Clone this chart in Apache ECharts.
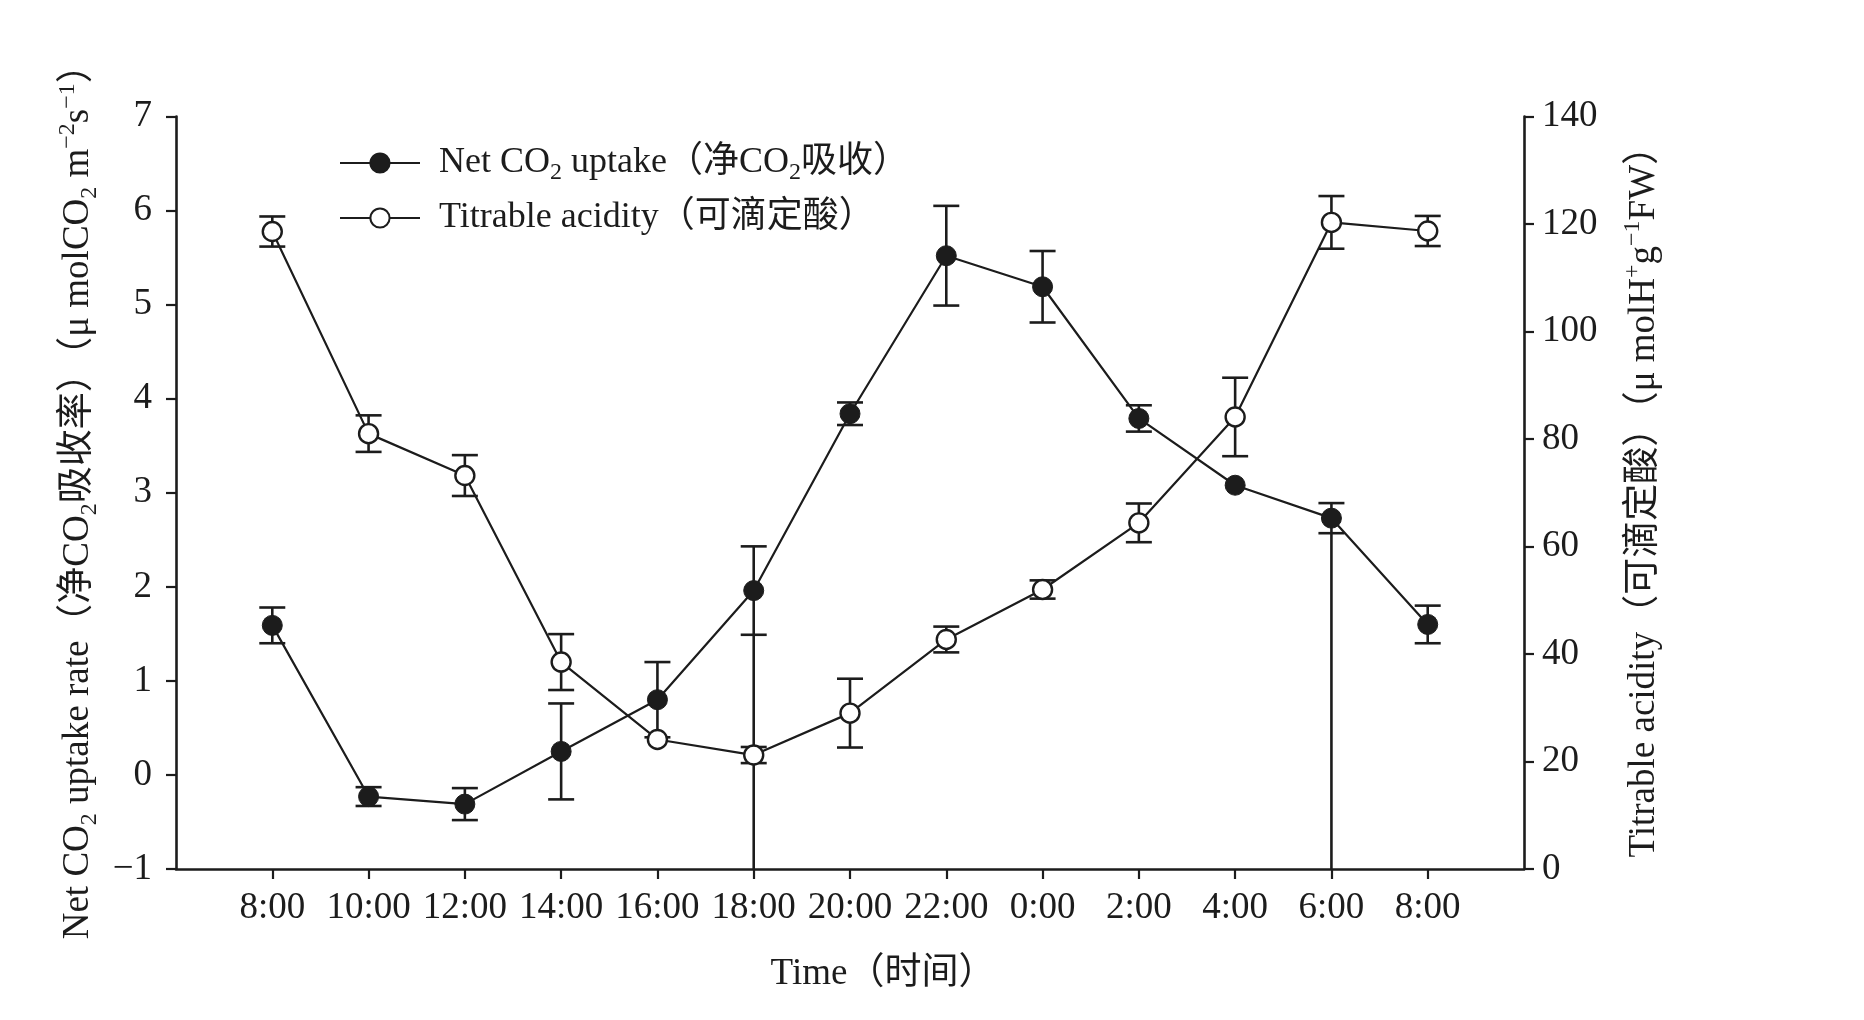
<!DOCTYPE html>
<html>
<head>
<meta charset="utf-8">
<script src="https://cdn.jsdelivr.net/npm/echarts@6/dist/echarts.min.js"></script>
<style>
html,body{margin:0;padding:0;background:#fff;}
#chart{width:1864px;height:1020px;}
</style>
</head>
<body>
<div id="chart"></div>
<script>
// ---- data ----
const times = ['8:00','10:00','12:00','14:00','16:00','18:00','20:00','22:00','0:00','2:00','4:00','6:00','8:00'];
const categories = [''].concat(times, ['']);
const netCO2 =    [1.59, -0.23, -0.31, 0.25, 0.80, 1.96, 3.84, 5.52, 5.19, 3.79, 3.08, 2.73, 1.60];
const netCO2Err = [0.19,  0.10,  0.17, 0.51, 0.40, 0.47, 0.12, 0.53, 0.38, 0.14, 0.00, 0.16, 0.20];
const acidity =    [118.6, 81.0, 73.2, 38.5, 24.1, 21.2, 29.0, 42.7, 52.0, 64.4, 84.1, 120.3, 118.7];
const acidityErr = [2.8,   3.4,  3.8,  5.2,  0.0,  1.5,  6.4,  2.4,  1.7,  3.6,  7.3,  4.9,   2.8];
// vertical lines in the original figure running from the lower bar of Net CO2 down to the axis bottom
const netCO2TailTo = [null, null, null, null, null, -1, null, null, null, null, null, -1, null];
const leftTicks = {min: -1, max: 7, interval: 1};
const rightTicks = {min: 0, max: 140, interval: 20};

const FONT = "'Liberation Serif', 'Noto Sans CJK SC', serif";
const INK = '#1c1c1c';
const subSup = {
  sub: {fontFamily: FONT, fontSize: 24, lineHeight: 24, verticalAlign: 'bottom', color: INK},
  sup: {fontFamily: FONT, fontSize: 24, lineHeight: 24, verticalAlign: 'top', color: INK}
};

const chart = echarts.init(document.getElementById('chart'), null, {renderer: 'canvas'});

function errData(vals, errs, offset) {
  return vals.map((v, i) => [i + offset, v - errs[i], v + errs[i]]).filter((d, i) => errs[i] > 0);
}
function tailData(vals, errs, to, offset) {
  const out = [];
  to.forEach((t, i) => { if (t != null) out.push([i + offset, vals[i] - errs[i], t]); });
  return out;
}
function renderErr(capHalf) {
  return function (params, api) {
    const x = api.value(0);
    const lo = api.coord([x, api.value(1)]);
    const hi = api.coord([x, api.value(2)]);
    const st = {stroke: INK, lineWidth: 2.6};
    return {
      type: 'group',
      children: [
        {type: 'line', shape: {x1: lo[0], y1: lo[1], x2: hi[0], y2: hi[1]}, style: st},
        {type: 'line', shape: {x1: lo[0] - capHalf, y1: lo[1], x2: lo[0] + capHalf, y2: lo[1]}, style: st},
        {type: 'line', shape: {x1: hi[0] - capHalf, y1: hi[1], x2: hi[0] + capHalf, y2: hi[1]}, style: st}
      ]
    };
  };
}
function renderTail(params, api) {
  const x = api.value(0);
  const a = api.coord([x, api.value(1)]);
  const b = api.coord([x, api.value(2)]);
  return {type: 'line', shape: {x1: a[0], y1: a[1], x2: b[0], y2: b[1]}, style: {stroke: INK, lineWidth: 2.6}};
}

const netName = 'Net CO2 uptake（净CO2吸收）';
const acidName = 'Titrable acidity（可滴定酸）';
const legendRich = {
  Net: 'Net CO{sub|2} uptake（净CO{sub|2}吸收）',
  Tit: 'Titrable acidity（可滴定酸）'
};

const axisLabelStyle = {fontFamily: FONT, fontSize: 37, color: INK};

const option = {
  animation: false,
  backgroundColor: '#ffffff',
  textStyle: {fontFamily: FONT},
  grid: {left: 176, right: 340, top: 116.5, bottom: 151, containLabel: false},
  legend: {
    orient: 'vertical',
    left: 339, top: 141, padding: 0,
    itemWidth: 80, itemHeight: 24, itemGap: 11,
    selectedMode: false,
    data: [netName, acidName],
    formatter: function (name) { return name === netName ? legendRich.Net : legendRich.Tit; },
    textStyle: {fontFamily: FONT, fontSize: 36, color: INK, lineHeight: 44, padding: [0, 0, 0, 14], rich: subSup}
  },
  xAxis: {
    type: 'category',
    data: categories,
    boundaryGap: false,
    name: 'Time（时间）',
    nameLocation: 'middle',
    nameGap: 87,
    nameTextStyle: {fontFamily: FONT, fontSize: 37, color: INK, padding: [0, 0, 0, 66]},
    axisLine: {onZero: false, lineStyle: {color: INK, width: 2.6}},
    axisTick: {length: 10, lineStyle: {color: INK, width: 2.2}, interval: function (i) { return i > 0 && i < categories.length - 1; }},
    axisLabel: Object.assign({margin: 21, interval: 0}, axisLabelStyle),
    splitLine: {show: false}
  },
  yAxis: [
    {
      type: 'value', position: 'left',
      min: leftTicks.min, max: leftTicks.max, interval: leftTicks.interval,
      name: 'Net CO{sub|2} uptake rate（净CO{sub|2}吸收率）（μ molCO{sub|2} m{sup|−2}s{sup|−1}）',
      nameLocation: 'middle', nameRotate: 90, nameGap: 72,
      nameTextStyle: {fontFamily: FONT, fontSize: 37, color: INK, lineHeight: 46, rich: subSup},
      axisLine: {show: true, lineStyle: {color: INK, width: 2.6}},
      axisTick: {show: true, length: 10, lineStyle: {color: INK, width: 2.2}},
      axisLabel: Object.assign({margin: 24, formatter: v => (v < 0 ? '−' + Math.abs(v) : String(v))}, axisLabelStyle),
      splitLine: {show: false}
    },
    {
      type: 'value', position: 'right',
      min: rightTicks.min, max: rightTicks.max, interval: rightTicks.interval,
      name: 'Titrable acidity（可滴定酸）（μ molH{sup|+}g{sup|−1}FW）',
      nameLocation: 'middle', nameRotate: 90, nameGap: 97,
      nameTextStyle: {fontFamily: FONT, fontSize: 37, color: INK, lineHeight: 46, rich: subSup},
      axisLine: {show: true, lineStyle: {color: INK, width: 2.6}},
      axisTick: {show: true, length: 10, lineStyle: {color: INK, width: 2.2}},
      axisLabel: Object.assign({margin: 18}, axisLabelStyle),
      splitLine: {show: false}
    }
  ],
  series: [
    {
      type: 'custom', name: 'netErr', yAxisIndex: 0, z: 2, silent: true,
      renderItem: renderErr(13), data: errData(netCO2, netCO2Err, 1), encode: {x: 0, y: [1, 2]}
    },
    {
      type: 'custom', name: 'netTail', yAxisIndex: 0, z: 2, silent: true,
      renderItem: renderTail, data: tailData(netCO2, netCO2Err, netCO2TailTo, 1), encode: {x: 0, y: [1, 2]}
    },
    {
      type: 'line', name: netName, yAxisIndex: 0, z: 3,
      data: netCO2.map((v, i) => [i + 1, v]),
      symbol: 'circle', symbolSize: 20,
      lineStyle: {color: INK, width: 2.2},
      itemStyle: {color: INK, borderColor: INK, borderWidth: 1}
    },
    {
      type: 'custom', name: 'acidErr', yAxisIndex: 1, z: 4, silent: true,
      renderItem: renderErr(13), data: errData(acidity, acidityErr, 1), encode: {x: 0, y: [1, 2]}
    },
    {
      type: 'line', name: acidName, yAxisIndex: 1, z: 5,
      data: acidity.map((v, i) => [i + 1, v]),
      symbol: 'circle', symbolSize: 19,
      lineStyle: {color: INK, width: 2.2},
      itemStyle: {color: '#ffffff', borderColor: INK, borderWidth: 2.4}
    }
  ]
};
chart.setOption(option);
</script>
</body>
</html>
